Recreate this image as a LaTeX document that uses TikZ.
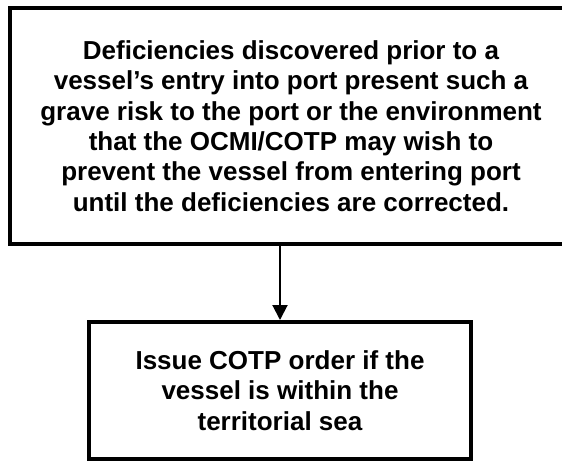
\documentclass[tikz,border=0pt]{standalone}
\usepackage{fontspec}
\setmainfont{Liberation Sans}
\usetikzlibrary{shapes,arrows.meta,calc}

\begin{document}
\begin{tikzpicture}[x=1pt, y=-1pt,
    box/.style={rectangle, draw, line width=4pt, align=center, inner sep=0pt,
      font=\bfseries\fontsize{26}{30.4}\selectfont}]
      \clip (0,0) rectangle (562,461);
      \useasboundingbox (0,0) rectangle (562,461);
      \node [box, minimum width=562pt, minimum height=236pt] (deficiencies) at (291, 126) {Deficiencies discovered prior to a\\vessel’s entry into port present such a\\grave risk to the port or the environment\\that the OCMI/COTP may wish to\\prevent the vessel from entering port\\until the deficiencies are corrected.};
      \node [box, minimum width=382pt, minimum height=137pt] (cotporder) at (280, 390.5) {Issue COTP order if the\\vessel is within the\\territorial sea};
      \draw [-{Triangle[length=15pt, width=15pt]}, line width=2pt] (cotporder.north |- deficiencies.south) -- (cotporder.north);
    \end{tikzpicture}
\end{document}
